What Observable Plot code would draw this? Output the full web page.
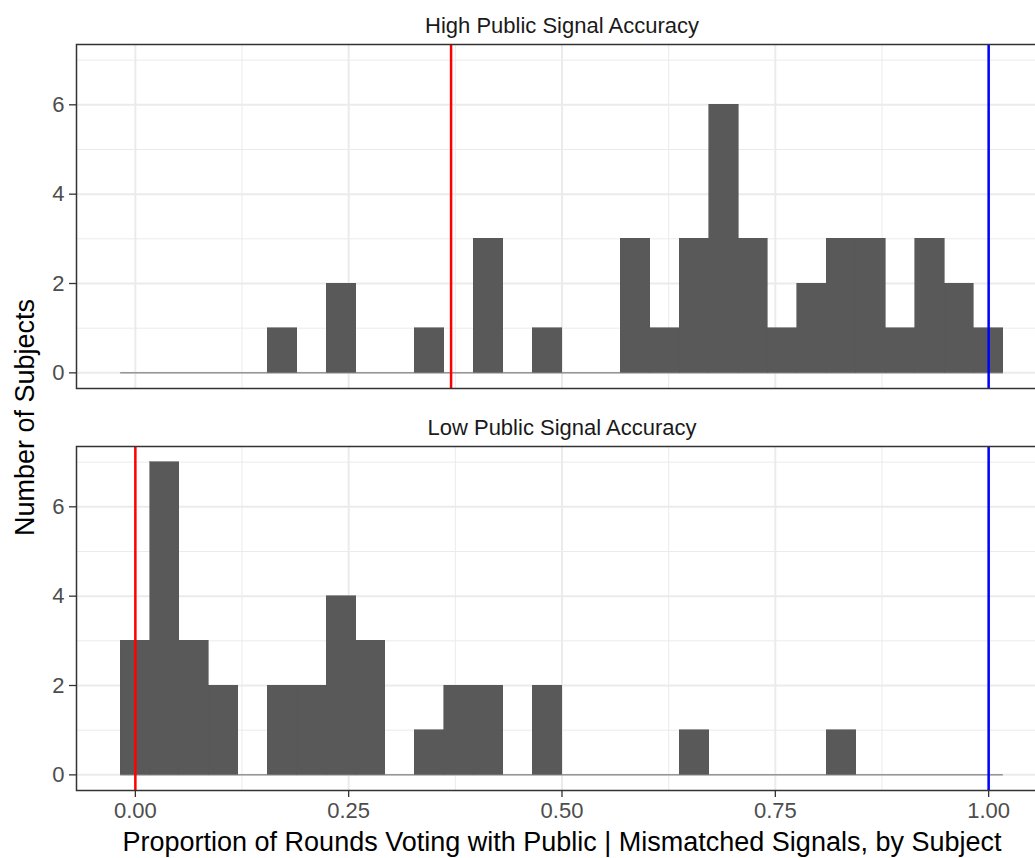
<!DOCTYPE html>
<html><head><meta charset="utf-8">
<script src="https://cdn.jsdelivr.net/npm/d3@7"></script>
<script src="https://cdn.jsdelivr.net/npm/@observablehq/plot@0.6"></script>
<style>html,body{margin:0;padding:0;background:#fff;overflow:hidden;width:1035px;height:858px}</style>
</head><body><div id="chart"></div>
<script>
// ---- data ----
const panels = ["High Public Signal Accuracy", "Low Public Signal Accuracy"];
const binCount = 30; // histogram bins, centred on k/29 for k = 0..29
const highCounts = [0,0,0,0,0,1,0,2,0,0,1,0,3,0,1,0,0,3,1,3,6,3,1,2,3,3,1,3,2,1];
const lowCounts  = [3,7,3,2,0,2,2,4,3,0,1,2,2,0,2,0,0,0,0,1,0,0,0,0,1,0,0,0,0,0];
const redLineX  = [0.37, 0.0];   // per panel
const blueLineX = [1.0, 1.0];    // per panel
const xTicks = [0, 0.25, 0.5, 0.75, 1];
const xMinor = [0.125, 0.375, 0.625, 0.875];
const yTicks = [0, 2, 4, 6];
const yMinor = [1, 3, 5, 7];
const xTitle = "Proportion of Rounds Voting with Public | Mismatched Signals, by Subject";
const yTitle = "Number of Subjects";

// ---- build tables ----
const binWidth = 1 / (binCount - 1);
const bars = [];
[highCounts, lowCounts].forEach((counts, p) => {
  counts.forEach((c, k) => {
    bars.push({panel: panels[p], x1: (k - 0.5) * binWidth, x2: (k + 0.5) * binWidth, count: c});
  });
});
const xMin = -0.5 * binWidth, xMax = (binCount - 0.5) * binWidth;
const xPad = 0.05 * (xMax - xMin);
const yPad = 0.05 * d3.max(bars, d => d.count);
const redLines = panels.map((p, i) => ({panel: p, x: redLineX[i]}));
const blueLines = panels.map((p, i) => ({panel: p, x: blueLineX[i]}));

const font = "'Liberation Sans', Arial, Helvetica, sans-serif";

const chart = Plot.plot({
  width: 1047, height: 858,
  marginLeft: 76, marginRight: 0, marginTop: 44, marginBottom: 67,
  style: {fontFamily: font, background: "#fff", overflow: "visible", maxWidth: "none"},
  x: {domain: [xMin - xPad, xMax + xPad]},
  y: {domain: [-yPad, d3.max(bars, d => d.count) + yPad]},
  fy: {domain: panels, axis: null, label: null, paddingInner: 0.144, paddingOuter: 0},
  marks: [
    Plot.ruleX(xMinor, {stroke: "#EBEBEB", strokeWidth: 1}),
    Plot.ruleY(yMinor, {stroke: "#EBEBEB", strokeWidth: 1}),
    Plot.ruleX(xTicks, {stroke: "#EBEBEB", strokeWidth: 2}),
    Plot.ruleY(yTicks, {stroke: "#EBEBEB", strokeWidth: 2}),
    Plot.ruleY([0], {x1: xMin, x2: xMax, stroke: "#595959", strokeWidth: 0.9}),
    Plot.rectY(bars.filter(d => d.count > 0), {x1: "x1", x2: "x2", y1: 0, y2: "count", fy: "panel", fill: "#595959", stroke: "#595959", strokeWidth: 0.6, shapeRendering: "crispEdges"}),
    Plot.ruleX(redLines, {x: "x", fy: "panel", stroke: "#FF0000", strokeWidth: 2.5}),
    Plot.ruleX(blueLines, {x: "x", fy: "panel", stroke: "#0000FF", strokeWidth: 2.5}),
    Plot.frame({stroke: "#333333", strokeWidth: 1.5}),
    Plot.axisY(yTicks, {tickSize: 7, tickPadding: 5, fontSize: 22, stroke: "#333333", strokeWidth: 1.3, fill: "#4D4D4D", label: null}),
    Plot.axisX(xTicks, {tickSize: 7, tickPadding: 5, fontSize: 22, stroke: "#333333", strokeWidth: 1.3, fill: "#4D4D4D", tickFormat: d3.format(".2f"), label: null}),
    Plot.text(panels, {fy: d => d, text: d => d, frameAnchor: "top", lineAnchor: "bottom", dy: -12, fontSize: 22, fill: "#1A1A1A"}),
    Plot.text([panels[1]], {fy: d => d, text: () => xTitle, frameAnchor: "bottom", lineAnchor: "bottom", dy: 60, fontSize: 27, fill: "#000"}),
    Plot.text([panels[0]], {fy: d => d, text: () => yTitle, frameAnchor: "bottom-left", textAnchor: "middle", lineAnchor: "bottom", rotate: -90, dx: -43, dy: 29, fontSize: 27, fill: "#000"})
  ]
});
document.getElementById("chart").appendChild(chart);
</script>
</body></html>
